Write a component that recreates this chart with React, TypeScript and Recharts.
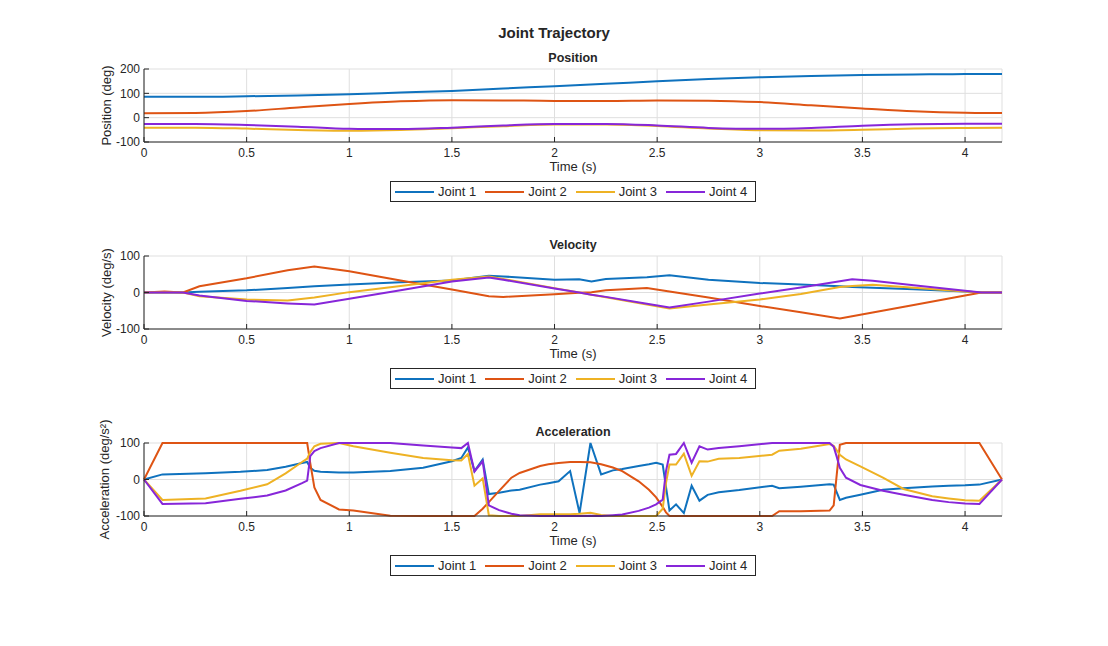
import { LineChart, Line, XAxis, YAxis, CartesianGrid, Legend, Label } from 'recharts'

const FONT = '"Liberation Sans", Arial, Helvetica, sans-serif'
const INK = '#262626'
const GRID = '#dfdfdf'
const COLORS = ['#0F72BE', '#DE5414', '#EEB224', '#8726D9']
const NAMES = ['Joint 1', 'Joint 2', 'Joint 3', 'Joint 4']

const T_END = 4.18
const timeTicks = [0, 0.5, 1, 1.5, 2, 2.5, 3, 3.5, 4]

// position (deg)
const posTime = [0, 0.25, 0.5, 0.75, 1, 1.25, 1.5, 1.75, 2, 2.25, 2.5, 2.75, 3, 3.25, 3.5, 3.75, 4, 4.18]
const posJ1 = [86, 86, 88, 91, 96, 103, 110, 120, 129, 139, 150, 159, 166, 171, 175, 177.5, 179, 179]
const posJ2 = [18, 19, 27, 42, 56, 67, 72, 71, 69, 69, 71, 70, 64, 51, 38, 26, 20, 19]
const posJ3 = [-41, -41, -45, -51, -54, -51, -43, -35, -28, -28, -34, -45, -52, -53, -50, -45, -42, -41]
const posJ4 = [-26, -26, -30, -37, -46, -47, -41, -32, -26, -26, -32, -42, -46, -42, -33, -27, -25, -25]
const posTicks = [-100, 0, 100, 200]

// velocity (deg/s)
const velTime = [0, 0.1, 0.19, 0.27, 0.5, 0.7, 0.83, 1, 1.25, 1.5, 1.68, 1.75, 2, 2.12, 2.18, 2.25, 2.45, 2.56, 2.75, 3, 3.2, 3.39, 3.45, 3.55, 3.75, 4, 4.08, 4.18]
const velJ1 = [0, 0, 0, 2, 6, 12, 17, 22, 28, 33, 46, 44, 35, 36, 30, 37, 42, 47, 35, 26, 22, 17, 15, 13, 9, 3, 0, 0]
const velJ2 = [0, 3, 0, 17, 39, 61, 71, 58, 33, 8, -10, -12, -5, -1, 1, 6, 12, 3, -14, -37, -54, -71, -65, -55, -34, -8, 0, 0]
const velJ3 = [0, 0, 0, -10, -19, -22, -14, 1, 18, 35, 44, 37, 12, 0, -6, -13, -33, -44, -33, -19, -4, 15, 18, 21, 13, 3, 0, 0]
const velJ4 = [0, 0, 0, -8, -23, -30, -33, -17, 6, 30, 41, 35, 11, 0, -6, -12, -31, -41, -25, -3, 14, 31, 36, 32, 20, 5, 0, 0]
const velTicks = [-100, 0, 100]

// acceleration (deg/s^2)
const accTime = [0, 0.09, 0.3, 0.47, 0.6, 0.69, 0.77, 0.795, 0.81, 0.83, 0.86, 0.95, 1.02, 1.2, 1.36, 1.5, 1.546, 1.578, 1.61, 1.65, 1.68, 1.73, 1.79, 1.83, 1.93, 1.97, 2.02, 2.076, 2.122, 2.175, 2.227, 2.284, 2.33, 2.41, 2.46, 2.495, 2.527, 2.543, 2.56, 2.592, 2.63, 2.668, 2.706, 2.746, 2.8, 2.9, 3.06, 3.095, 3.2, 3.34, 3.36, 3.375, 3.39, 3.42, 3.49, 3.6, 3.7, 3.84, 3.92, 4, 4.07, 4.18]
const accJ1 = [0, 14, 17, 21, 26, 35, 45, 48, 32, 24, 21, 19, 19, 23, 32, 50, 59, 88, 23, 55, -40, -36, -30, -28, -14, -10, -5, 23, -92, 100, 14, 25, 29, 37, 42, 46, 41, -20, -85, -68, -92, -17, -58, -42, -35, -29, -17, -24, -20, -13, -14, -35, -56, -50, -42, -28, -24, -19, -17, -16, -14, 0]
const accJ2 = [0, 100, 100, 100, 100, 100, 100, 100, 45, -22, -56, -82, -85, -99, -100, -100, -100, -100, -100, -80, -62, -31, 5, 18, 37, 42, 45, 48, 48, 47, 42, 33, 23, -5, -28, -49, -75, -90, -100, -100, -100, -100, -100, -100, -100, -100, -100, -87, -87, -85, -71, 14, 95, 100, 100, 100, 100, 100, 100, 100, 100, 0]
const accJ3 = [0, -56, -52, -31, -13, 17, 48, 57, 75, 91, 98, 100, 91, 73, 59, 53, 52, 70, -17, 3, -98, -100, -100, -100, -95, -95, -95, -95, -94, -91, -97, -100, -100, -100, -100, -100, -80, -10, 41, 41, 71, 10, 50, 49, 57, 59, 68, 79, 84, 97, 92, 80, 68, 55, 36, 5, -26, -46, -52, -57, -58, 0]
const accJ4 = [0, -67, -65, -53, -44, -30, -10, -3, 64, 78, 86, 100, 100, 100, 93, 88, 86, 100, 22, 50, -71, -84, -94, -98, -100, -100, -100, -100, -100, -99, -100, -98, -96, -86, -77, -68, -55, 23, 68, 70, 100, 46, 91, 82, 86, 91, 100, 100, 100, 100, 90, 62, 32, 5, -15, -31, -42, -56, -62, -66, -67, 0]
const accTicks = [-100, 0, 100]

const toRows = (time: number[], a: number[], b: number[], c: number[], d: number[]) =>
  time.map((t, i) => ({ t, j1: a[i], j2: b[i], j3: c[i], j4: d[i] }))

const posRows = toRows(posTime, posJ1, posJ2, posJ3, posJ4)
const velRows = toRows(velTime, velJ1, velJ2, velJ3, velJ4)
const accRows = toRows(accTime, accJ1, accJ2, accJ3, accJ4)

const tickStyle = { fontSize: 12, fill: INK, fontFamily: FONT }

function LegendBox({ payload }: any) {
  return (
    <div
      style={{
        display: 'flex', alignItems: 'center', gap: 9, height: 21, boxSizing: 'border-box',
        border: `1px solid ${INK}`, background: '#fff', padding: '0 5px 0 4px',
        fontFamily: FONT, fontSize: 13, color: INK, whiteSpace: 'nowrap',
      }}
    >
      {(payload || []).map((p: any) => (
        <div key={p.value} style={{ display: 'flex', alignItems: 'center', gap: 4 }}>
          <svg width={39} height={4}>
            <line x1={0} y1={2} x2={39} y2={2} stroke={p.color} strokeWidth={2} />
          </svg>
          <span>{p.value}</span>
        </div>
      ))}
    </div>
  )
}

interface PanelProps {
  rows: any[]
  title: string
  yLabel: string
  yTicks: number[]
  top: number
  curve: 'monotone' | 'linear'
  labelOffset: number
}

function Panel({ rows, title, yLabel, yTicks, top, curve, labelOffset }: PanelProps) {
  const yDomain = [yTicks[0], yTicks[yTicks.length - 1]]
  return (
    <div style={{ position: 'absolute', left: 0, top, width: 1108, height: 210 }}>
      <div style={{
        position: 'absolute', left: 144, top: 51, width: 858, textAlign: 'center',
        fontSize: 12.5, lineHeight: '15px', fontWeight: 'bold', color: INK, fontFamily: FONT,
      }}>
        {title}
      </div>
      <LineChart width={1108} height={210} data={rows} margin={{ top: 69, right: 106, bottom: 38, left: 104 }}>
        <CartesianGrid stroke={GRID} />
        <XAxis
          xAxisId="top" orientation="top" dataKey="t" type="number" domain={[0, T_END]} ticks={timeTicks}
          height={0} tick={false} tickSize={-5} axisLine={{ stroke: INK }} tickLine={{ stroke: INK }}
        />
        <XAxis
          dataKey="t" type="number" domain={[0, T_END]} ticks={timeTicks} height={30}
          tick={tickStyle} tickSize={-5} tickMargin={11} axisLine={{ stroke: INK }} tickLine={{ stroke: INK }}
        >
          <Label value="Time (s)" position="insideBottom" offset={1}
            style={{ fontSize: 13, fill: INK, fontFamily: FONT }} />
        </XAxis>
        <YAxis
          type="number" domain={yDomain} ticks={yTicks} width={40} interval={0}
          tick={tickStyle} tickSize={-5} tickMargin={9} axisLine={{ stroke: INK }} tickLine={{ stroke: INK }}
        >
          <Label value={yLabel} angle={-90} position="insideLeft" offset={labelOffset}
            style={{ fontSize: 13, fill: INK, fontFamily: FONT, textAnchor: 'middle' }} />
        </YAxis>
        <YAxis
          yAxisId="right" orientation="right" type="number" domain={yDomain} ticks={yTicks} width={0}
          tick={false} tickSize={-5} axisLine={{ stroke: INK }} tickLine={{ stroke: INK }}
        />
        {['j1', 'j2', 'j3', 'j4'].map((k, i) => (
          <Line key={k} type={curve} dataKey={k} name={NAMES[i]} stroke={COLORS[i]} strokeWidth={2}
            dot={false} activeDot={false} isAnimationActive={false} />
        ))}
        <Legend layout="horizontal" verticalAlign="middle" align="center"
          wrapperStyle={{ top: 181, left: 390, width: 366, height: 21 }} content={<LegendBox />} />
      </LineChart>
    </div>
  )
}

export default function App() {
  return (
    <div style={{ position: 'absolute', left: 0, top: 0, width: 1108, height: 646, background: '#fff', fontFamily: FONT }}>
      <div style={{ position: 'absolute', top: 24, left: 0, width: 1108, textAlign: 'center', fontSize: 15, lineHeight: '18px', fontWeight: 'bold', color: INK }}>
        Joint Trajectory
      </div>
      <Panel rows={posRows} title="Position" yLabel="Position (deg)" yTicks={posTicks} top={0} curve="monotone" labelOffset={2.5} />
      <Panel rows={velRows} title="Velocity" yLabel="Velocity (deg/s)" yTicks={velTicks} top={187} curve="linear" labelOffset={2.5} />
      <Panel rows={accRows} title="Acceleration" yLabel="Acceleration (deg/s²)" yTicks={accTicks} top={374} curve="linear" labelOffset={0} />
    </div>
  )
}
